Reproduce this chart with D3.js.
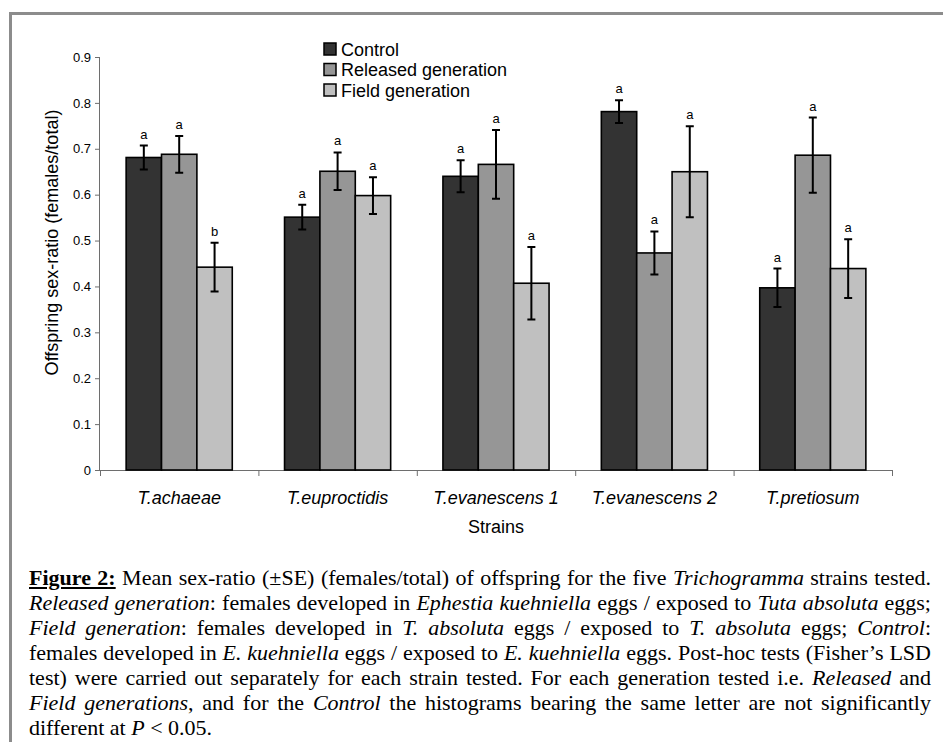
<!DOCTYPE html>
<html>
<head>
<meta charset="utf-8">
<script src="https://cdn.jsdelivr.net/npm/d3@7"></script>
<style>
  html, body { margin: 0; padding: 0; background: #fff; }
  #fig { position: relative; width: 943px; height: 742px; overflow: hidden; }
  svg text { font-family: "Liberation Sans", Arial, sans-serif; fill: #000; }
  .caption { position: absolute; left: 29px; top: 565px; width: 902px;
    font-family: "Liberation Serif", "Times New Roman", serif; font-size: 22px; line-height: 25px; color: #000; }
  .caption div { text-align: justify; text-align-last: justify; white-space: nowrap; }
  .caption div.last { text-align-last: left; }
</style>
</head>
<body>
<div id="fig"></div>
<script>
const strains = ["T.achaeae", "T.euproctidis", "T.evanescens 1", "T.evanescens 2", "T.pretiosum"];
const seriesNames = ["Control", "Released generation", "Field generation"];

const controlMean  = [0.681, 0.551, 0.640, 0.781, 0.397];
const controlSE    = [0.026, 0.027, 0.035, 0.025, 0.042];
const releasedMean = [0.688, 0.651, 0.666, 0.473, 0.686];
const releasedSE   = [0.040, 0.041, 0.075, 0.047, 0.082];
const fieldMean    = [0.442, 0.598, 0.407, 0.650, 0.439];
const fieldSE      = [0.053, 0.040, 0.079, 0.099, 0.064];

const controlLetters  = ["a", "a", "a", "a", "a"];
const releasedLetters = ["a", "a", "a", "a", "a"];
const fieldLetters    = ["b", "a", "a", "a", "a"];

const yTicks = [0, 0.1, 0.2, 0.3, 0.4, 0.5, 0.6, 0.7, 0.8, 0.9];

const captionLines = [
  "<b><u>Figure 2:</u></b> Mean sex-ratio (±SE) (females/total) of offspring for the five <i>Trichogramma</i> strains tested.",
  "<i>Released generation</i>: females developed in <i>Ephestia kuehniella</i> eggs / exposed to <i>Tuta absoluta</i> eggs;",
  "<i>Field generation</i>: females developed in <i>T. absoluta</i> eggs / exposed to <i>T. absoluta</i> eggs; <i>Control</i>:",
  "females developed in <i>E. kuehniella</i> eggs / exposed to <i>E. kuehniella</i> eggs. Post-hoc tests (Fisher’s LSD",
  "test) were carried out separately for each strain tested. For each generation tested i.e. <i>Released</i> and",
  "<i>Field generations</i>, and for the <i>Control</i> the histograms bearing the same letter are not significantly",
  "different at <i>P</i> &lt; 0.05."
];

const colors = ["#333333", "#969696", "#c0c0c0"];

// build table for the bars
const series = [
  {name: seriesNames[0], mean: controlMean, se: controlSE, letters: controlLetters},
  {name: seriesNames[1], mean: releasedMean, se: releasedSE, letters: releasedLetters},
  {name: seriesNames[2], mean: fieldMean, se: fieldSE, letters: fieldLetters},
];
const rows = [];
series.forEach((s, si) => strains.forEach((st, i) => rows.push({
  strain: st, series: s.name, si, mean: s.mean[i], se: s.se[i], letter: s.letters[i]
})));

const width = 943, height = 742;
const margin = {top: 57, right: 51, bottom: 272, left: 100};

const fig = d3.select("#fig");
const svg = fig.append("svg").attr("width", width).attr("height", height);

// frame lines
svg.append("rect").attr("x", 9).attr("y", 12).attr("width", width).attr("height", 3).attr("fill", "#8c8c8c");
svg.append("rect").attr("x", 9).attr("y", 12).attr("width", 3).attr("height", height).attr("fill", "#8c8c8c");

const x = d3.scaleBand()
  .domain(strains)
  .range([margin.left, width - margin.right])
  .paddingInner(0.33)
  .paddingOuter(0.165);

const xs = d3.scaleBand()
  .domain(seriesNames)
  .range([0, x.bandwidth()]);

const y = d3.scaleLinear()
  .domain([0, 0.9])
  .range([height - margin.bottom, margin.top]);

const y0 = y(0);

// y axis
const yaxis = svg.append("g")
  .attr("transform", `translate(${margin.left},0)`)
  .call(d3.axisLeft(y).tickValues(yTicks).tickSize(5).tickPadding(4)
    .tickFormat(d => d === 0 ? "0" : d3.format(".1f")(d)));
yaxis.selectAll("path, line").attr("stroke", "#6e6e6e");
yaxis.selectAll("text").style("font-size", "13px").attr("fill", "#111");
yaxis.select(".domain").attr("d", `M-0.5,${y(0.9)}V${y0}`);

// x axis: boundary ticks
const xb = d3.scaleLinear().domain([0, strains.length]).range(x.range());
const xaxis = svg.append("g")
  .attr("transform", `translate(0,${y0})`)
  .call(d3.axisBottom(xb).tickValues(d3.range(strains.length + 1)).tickSize(6).tickFormat("").tickSizeOuter(0));
xaxis.selectAll("path, line").attr("stroke", "#6e6e6e");

// category labels
svg.append("g")
  .attr("transform", `translate(0,${y0})`)
  .call(d3.axisBottom(x).tickSize(0).tickPadding(21))
  .call(g => g.select(".domain").remove())
  .selectAll("text")
  .style("font-size", "18px")
  .style("font-style", "italic");

// bars
svg.append("g").selectAll("rect")
  .data(rows)
  .join("rect")
  .attr("x", d => x(d.strain) + xs(d.series))
  .attr("y", d => y(d.mean))
  .attr("width", xs.bandwidth())
  .attr("height", d => y0 - y(d.mean))
  .attr("fill", d => colors[d.si])
  .attr("stroke", "#000")
  .attr("stroke-width", 1.6);

// error bars
const eb = svg.append("g").attr("stroke", "#000").attr("stroke-width", 2);
const cx = d => x(d.strain) + xs(d.series) + xs.bandwidth() / 2;
eb.selectAll("path")
  .data(rows)
  .join("path")
  .attr("fill", "none")
  .attr("d", d => {
    const t = y(d.mean + d.se), b = y(d.mean - d.se), c = cx(d);
    return `M${c - 4},${t}H${c + 4}M${c},${t}V${b}M${c - 4},${b}H${c + 4}`;
  });

// significance letters
svg.append("g").selectAll("text")
  .data(rows)
  .join("text")
  .attr("x", cx)
  .attr("y", d => y(d.mean + d.se) - 7)
  .attr("text-anchor", "middle")
  .style("font-size", "13px")
  .text(d => d.letter);

// axis titles
svg.append("text")
  .attr("x", (margin.left + width - margin.right) / 2)
  .attr("y", y0 + 63)
  .attr("text-anchor", "middle")
  .style("font-size", "18px")
  .text("Strains");

svg.append("text")
  .attr("transform", `translate(58,${(y(0.9) + y0) / 2 - 21}) rotate(-90)`)
  .attr("text-anchor", "middle")
  .style("font-size", "18px")
  .text("Offspring sex-ratio (females/total)");

// legend
const legend = svg.append("g").attr("transform", "translate(324,49)");
const item = legend.selectAll("g")
  .data(seriesNames)
  .join("g")
  .attr("transform", (d, i) => `translate(0,${i * 20.5})`);
item.append("rect")
  .attr("x", 0).attr("y", -6)
  .attr("width", 12).attr("height", 12)
  .attr("fill", (d, i) => colors[i])
  .attr("stroke", "#000")
  .attr("stroke-width", 1.5);
item.append("text")
  .attr("x", 17)
  .attr("y", 6.5)
  .style("font-size", "18px")
  .text(d => d);

// caption
fig.append("div").attr("class", "caption")
  .selectAll("div")
  .data(captionLines)
  .join("div")
  .classed("last", (d, i) => i === captionLines.length - 1)
  .html(d => d);
</script>
</body>
</html>
